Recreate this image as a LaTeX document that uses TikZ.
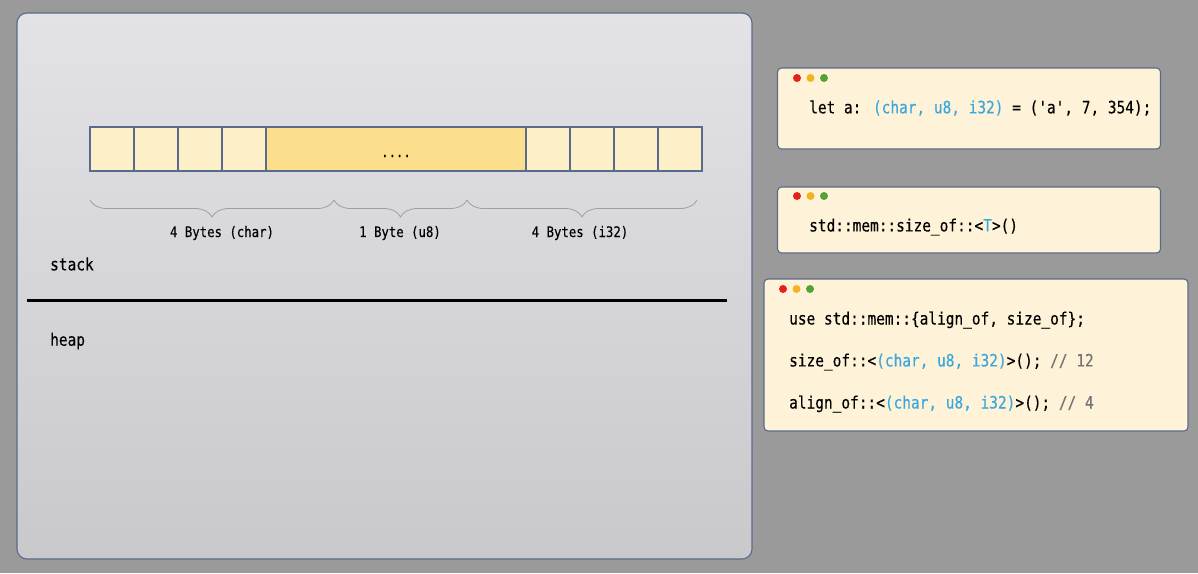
\documentclass[tikz,border=0pt]{standalone}
\usepackage{fontspec}
\usepackage{xcolor}
\usepackage{tikz}
\usetikzlibrary{positioning,decorations.pathreplacing}
\newfontfamily\codefont[FakeStretch=0.85,FakeBold=0.35]{DejaVu Sans Mono}
\definecolor{outergray}{HTML}{9A9A9A}
\definecolor{paneltop}{HTML}{E3E2E7}
\definecolor{panelbot}{HTML}{C9C9CC}
\definecolor{edgeblue}{HTML}{5A6A8A}
\definecolor{celllight}{HTML}{FDEFC8}
\definecolor{celldark}{HTML}{FCDF8C}
\definecolor{codefill}{HTML}{FEF3D8}
\definecolor{typeblue}{HTML}{3BA7DE}
\definecolor{dotred}{HTML}{E3221B}
\definecolor{dotyellow}{HTML}{F2B322}
\definecolor{dotgreen}{HTML}{52A236}
\newcommand{\ty}[1]{\textcolor{typeblue}{#1}}

\begin{document}
\begin{tikzpicture}[x=1pt,y=-1pt,
  cell/.style={draw=edgeblue,line width=1.1pt,fill=celllight,minimum width=44pt,minimum height=44pt,inner sep=0pt,outer sep=0pt},
  codebox/.style={draw=edgeblue,line width=1.1pt,fill=codefill,rounded corners=4pt,inner sep=0pt},
  code/.style={anchor=west,inner sep=0pt,font=\codefont\fontsize{17}{20}\selectfont},
  bytelabel/.style={inner sep=0pt,font=\codefont\fontsize{14.5}{17}\selectfont},
  curly/.style={draw=gray!75,line width=0.8pt,decorate,decoration={brace,mirror,amplitude=17pt}}]
\def\windowdots#1#2{%
  \fill[dotred] (#1,#2) circle (4pt);
  \fill[dotyellow] (#1+13.5,#2) circle (4pt);
  \fill[dotgreen] (#1+27,#2) circle (4pt);}
\useasboundingbox (0,0) rectangle (1198,573);
      \fill[outergray] (0,0) rectangle (1198,573);
      % stack and heap panel
      \shade[rounded corners=10pt,top color=paneltop,middle color=paneltop!96!panelbot,bottom color=panelbot] (17,13) rectangle (752,559);
      \draw[edgeblue,line width=1.1pt,rounded corners=10pt] (17,13) rectangle (752,559);
      \node[cell] (c1) at (112,149) {};
      \node[cell] (c2) at (156,149) {};
      \node[cell] (c3) at (200,149) {};
      \node[cell] (c4) at (244,149) {};
      \node[cell,fill=celldark,minimum width=260pt] (pad) at (396,149) {};
      \node[bytelabel,anchor=base] (gap) at (396,157) {....};
      \node[cell] (c5) at (548,149) {};
      \node[cell] (c6) at (592,149) {};
      \node[cell] (c7) at (636,149) {};
      \node[cell] (c8) at (680,149) {};
      \coordinate (b0) at (90,200);
      \coordinate (b1) at (334,200);
      \coordinate (b2) at (467,200);
      \coordinate (b3) at (697,200);
      \draw[curly] (b0) -- (b1);
      \draw[curly] (b1) -- (b2);
      \draw[curly] (b2) -- (b3);
      \node[bytelabel] (l1) at (222,233) {4 Bytes (char)};
      \node[bytelabel] (l2) at (400,233) {1 Byte (u8)};
      \node[bytelabel] (l3) at (580,233) {4 Bytes (i32)};
      \node[code] (stack) at (50,264) {stack};
      \draw[line width=3pt] (27,300) -- (727,300);
      \node[code] (heap) at (50,341) {heap};
      % code windows
      \node[codebox,minimum width=383pt,minimum height=81pt] (w1) at (969,108.5) {};
      \windowdots{797}{78}
      \node[code] (let) at (809,108) {let a: \ty{(char, u8, i32)} = ('a', 7, 354);};
      \node[codebox,minimum width=383pt,minimum height=66pt] (w2) at (969,220) {};
      \windowdots{797}{196}
      \node[code] (sizeT) at (809,227) {std::mem::size\_of::<\ty{T}>()};
      \node[codebox,minimum width=424pt,minimum height=152pt] (w3) at (976,355) {};
      \windowdots{783}{289}
      \node[code] (use) at (789,320) {use std::mem::\{align\_of, size\_of\};};
      \node[code] (size) at (789,362) {size\_of::<\ty{(char, u8, i32)}>(); \textcolor{gray!90!black}{// 12}};
      \node[code] (align) at (789,404) {align\_of::<\ty{(char, u8, i32)}>(); \textcolor{gray!90!black}{// 4}};
\end{tikzpicture}
\end{document}
